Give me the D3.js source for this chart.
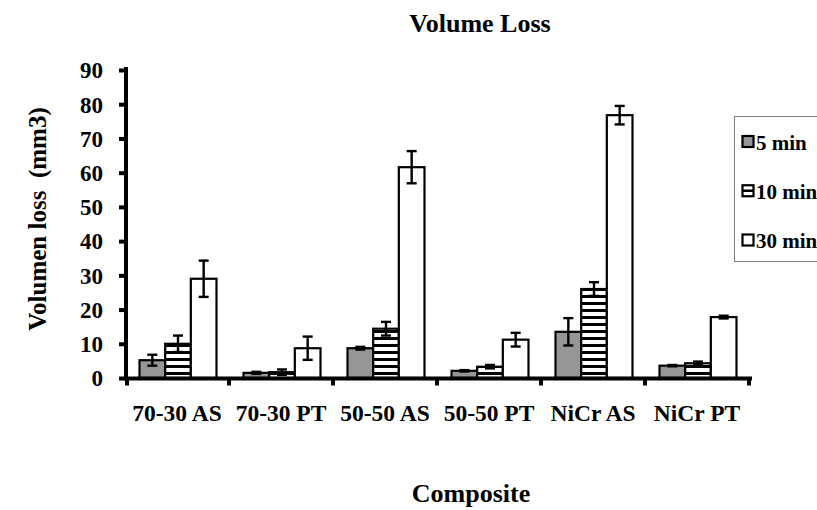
<!DOCTYPE html>
<html><head><meta charset="utf-8">
<script src="https://cdn.jsdelivr.net/npm/d3@7"></script>
<style>body{margin:0;background:#fff;} svg{display:block;}</style>
</head><body>
<svg id="c" width="817" height="510"></svg>
<script>
const categories = ["70-30 AS","70-30 PT","50-50 AS","50-50 PT","NiCr AS","NiCr PT"];
const seriesNames = ["5 min","10 min","30 min"];
const v5  = [5.2, 1.5, 8.7, 2.1, 13.5, 3.6];
const v10 = [10.0, 1.7, 14.4, 3.3, 26.0, 4.3];
const v30 = [29.0, 8.7, 61.6, 11.2, 76.8, 17.8];
const e5  = [1.6, 0.3, 0.4, 0.2, 4.0, 0.2];
const e10 = [2.4, 0.8, 2.0, 0.5, 2.0, 0.5];
const e30 = [5.3, 3.4, 4.7, 2.0, 2.7, 0.4];
const yTicks = [0,10,20,30,40,50,60,70,80,90];

const values = [v5, v10, v30];
const errs = [e5, e10, e30];
const svg = d3.select("#c");
const FONT = "'Liberation Serif','Times New Roman',serif";

const defs = svg.append("defs");
const pat = defs.append("pattern").attr("id","hatch").attr("patternUnits","userSpaceOnUse")
  .attr("width",8).attr("height",7).attr("y",1);
pat.append("rect").attr("width",8).attr("height",7).attr("fill","#fff");
pat.append("rect").attr("y",0).attr("width",8).attr("height",3).attr("fill","#000");
const fills = ["#969696","url(#hatch)","#fff"];

const x = d3.scaleBand().domain(categories).range([125,749]).paddingInner(0).paddingOuter(0);
const xs = d3.scaleBand().domain(seriesNames).range([14.5,91.5]).paddingInner(0).paddingOuter(0);
const y = d3.scaleLinear().domain([0,90]).range([378,70]);

// bars
seriesNames.forEach((s,si)=>{
  const g = svg.append("g");
  categories.forEach((c,ci)=>{
    const val = values[si][ci];
    g.append("rect")
      .attr("x", x(c)+xs(s)).attr("y", y(val))
      .attr("width", xs.bandwidth()).attr("height", y(0)-y(val))
      .attr("fill", fills[si]).attr("stroke","#000").attr("stroke-width",2.2);
  });
});
// error bars
seriesNames.forEach((s,si)=>{
  categories.forEach((c,ci)=>{
    const val = values[si][ci], e = errs[si][ci];
    const cx = x(c)+xs(s)+xs.bandwidth()/2;
    const g = svg.append("g").attr("stroke","#000").attr("stroke-width",2.4);
    g.append("line").attr("x1",cx).attr("x2",cx).attr("y1",y(val+e)).attr("y2",y(val-e));
    g.append("line").attr("x1",cx-5).attr("x2",cx+5).attr("y1",y(val+e)).attr("y2",y(val+e));
    g.append("line").attr("x1",cx-5).attr("x2",cx+5).attr("y1",y(val-e)).attr("y2",y(val-e));
  });
});

// y axis
const yAxis = svg.append("g").attr("transform","translate(126,0)")
  .call(d3.axisLeft(y).tickValues(yTicks).tickSize(7).tickPadding(16));
yAxis.select(".domain").attr("stroke","#000").attr("stroke-width",4).attr("d","M0,380V67");
yAxis.selectAll(".tick line").attr("stroke","#000").attr("stroke-width",4);
yAxis.selectAll(".tick text").attr("font-family",FONT).attr("font-weight","bold")
  .attr("font-size",23).attr("fill","#000").attr("dy","0.34em");

// x axis
const xAxis = svg.append("g").attr("transform","translate(0,378.5)")
  .call(d3.axisBottom(x).tickSize(0).tickPadding(31));
xAxis.select(".domain").attr("stroke","#000").attr("stroke-width",4).attr("d","M124,0H752");
xAxis.selectAll(".tick text").attr("font-family",FONT).attr("font-weight","bold")
  .attr("font-size",23.5).attr("fill","#000").attr("dy","0.5em");
const edges = categories.map(c=>x(c)).concat([x.range()[1]]);
xAxis.selectAll(".edge").data(edges).enter().append("line")
  .attr("x1",(d,i)=>i===0?d+2:d).attr("x2",(d,i)=>i===0?d+2:d).attr("y1",0).attr("y2",7)
  .attr("stroke","#000").attr("stroke-width",4);

// titles
svg.append("text").attr("x",480).attr("y",32).attr("text-anchor","middle")
  .attr("font-family",FONT).attr("font-weight","bold").attr("font-size",26).text("Volume Loss");
svg.append("text").attr("x",471).attr("y",502).attr("text-anchor","middle")
  .attr("font-family",FONT).attr("font-weight","bold").attr("font-size",26).text("Composite");
svg.append("text").attr("transform","translate(46,219) rotate(-90)").attr("text-anchor","middle")
  .attr("font-family",FONT).attr("font-weight","bold").attr("font-size",25)
  .attr("xml:space","preserve").style("white-space","pre").text("Volumen loss  (mm3)");

// legend
const lg = svg.append("g");
lg.append("rect").attr("x",734.5).attr("y",116.5).attr("width",100).attr("height",145)
  .attr("fill","#fff").attr("stroke","#808080").attr("stroke-width",1);
const ly = d3.scalePoint().domain(seriesNames).range([141.5,240]);
seriesNames.forEach((s,si)=>{
  lg.append("rect").attr("x",742.5).attr("y",ly(s)-5.5).attr("width",11).attr("height",11)
    .attr("fill", si===1 ? "#fff" : fills[si]).attr("stroke","#000").attr("stroke-width",2.2);
  if(si===1){
    lg.append("line").attr("x1",742.5).attr("x2",753.5).attr("y1",ly(s)).attr("y2",ly(s))
      .attr("stroke","#000").attr("stroke-width",2.5);
  }
  lg.append("text").attr("x",756).attr("y",ly(s)+8).attr("font-family",FONT)
    .attr("font-weight","bold").attr("font-size",21).text(s);
});
</script>
</body></html>
